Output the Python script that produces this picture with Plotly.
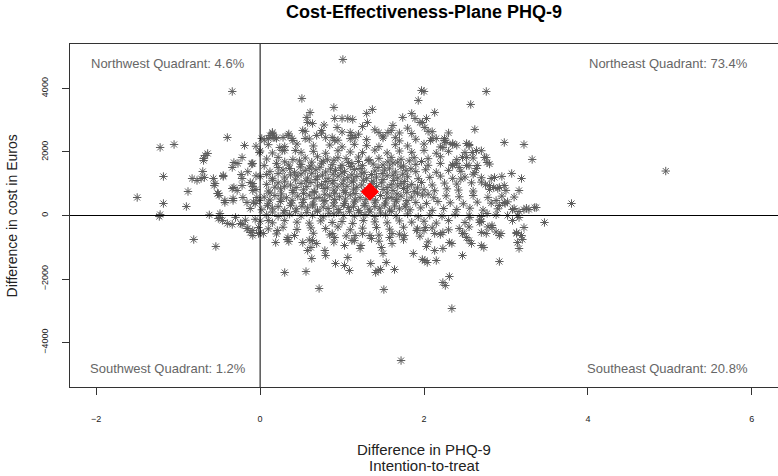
import plotly.graph_objects as go

# bootstrap replicates read off the plane: incremental effect (PHQ-9) and cost (Euros)
# dense core, row by row
phq_core = [
    0.15, 0.35, 0.55, 0.75, 1.0, 1.2, 1.45, 1.6, 1.85, 2.1, 2.3,
    0.05, 0.2, 0.4, 0.6, 0.8, 0.95, 1.1, 1.3, 1.5, 1.7, 1.9, 2.1, 2.25,
    -0.05, 0.1, 0.3, 0.45, 0.65, 0.85, 1.0, 1.15, 1.3, 1.45, 1.65, 1.8, 2.0, 2.2, 2.4,
    0.0, 0.15, 0.3, 0.5, 0.65, 0.8, 0.95, 1.1, 1.25, 1.4, 1.55, 1.7, 1.85, 2.0, 2.15, 2.3, 2.5, 2.7,
    0.08, 0.22, 0.4, 0.55, 0.7, 0.82, 0.95, 1.05, 1.2, 1.33, 1.45, 1.6, 1.72, 1.88, 2.05, 2.2, 2.4, 2.6,
    -0.1, 0.05, 0.2, 0.35, 0.5, 0.62, 0.75, 0.88, 1.0, 1.12, 1.25, 1.38, 1.5, 1.62, 1.75, 1.9, 2.05, 2.2, 2.35, 2.55, 2.8,
    0.12, 0.28, 0.42, 0.55, 0.68, 0.8, 0.92, 1.03, 1.15, 1.27, 1.4, 1.52, 1.65, 1.78, 1.9, 2.02, 2.15, 2.3, 2.45, 2.62,
    0.0, 0.15, 0.3, 0.45, 0.58, 0.7, 0.83, 0.95, 1.07, 1.18, 1.3, 1.42, 1.55, 1.68, 1.8, 1.93, 2.07, 2.2, 2.35, 2.5, 2.7, 2.95,
    0.08, 0.22, 0.37, 0.5, 0.62, 0.75, 0.88, 1.0, 1.12, 1.24, 1.36, 1.48, 1.6, 1.72, 1.85, 1.97, 2.1, 2.25, 2.4, 2.58, 2.75,
    -0.05, 0.1, 0.25, 0.4, 0.53, 0.66, 0.78, 0.9, 1.02, 1.14, 1.27, 1.5, 1.62, 1.75, 1.88, 2.0, 2.13, 2.28, 2.42, 2.6, 2.8, 3.0,
    0.05, 0.18, 0.32, 0.46, 0.6, 0.72, 0.85, 0.97, 1.1, 1.22, 1.35, 1.47, 1.6, 1.72, 1.85, 1.98, 2.12, 2.27, 2.43, 2.6, 2.78, 2.95, 3.1,
    -0.08, 0.1, 0.25, 0.38, 0.52, 0.65, 0.78, 0.9, 1.03, 1.15, 1.28, 1.4, 1.53, 1.66, 1.78, 1.9, 2.03, 2.17, 2.32, 2.48, 2.65, 2.82, 3.02,
    0.02, 0.15, 0.3, 0.44, 0.58, 0.7, 0.83, 0.96, 1.08, 1.2, 1.33, 1.46, 1.58, 1.7, 1.83, 1.96, 2.1, 2.24, 2.4, 2.56, 2.72, 2.9, 3.08, 3.25,
    0.08, 0.22, 0.36, 0.5, 0.64, 0.77, 0.9, 1.02, 1.15, 1.28, 1.4, 1.53, 1.66, 1.8, 1.93, 2.07, 2.22, 2.38, 2.55, 2.7, 2.88,
    0.0, 0.15, 0.3, 0.45, 0.6, 0.74, 0.88, 1.0, 1.13, 1.26, 1.4, 1.55, 1.7, 1.85, 2.0, 2.15, 2.3, 2.5, 2.7,
    0.1, 0.28, 0.45, 0.62, 0.8, 0.95, 1.1, 1.25, 1.42, 1.58, 1.75, 1.92, 2.1, 2.3, 2.55,
    0.2, 0.42, 0.65, 0.85, 1.05, 1.25, 1.45, 1.7, 1.95, 2.2,
    0.35, 0.6, 0.9, 1.15, 1.45, 1.75, 2.05,
    # inner rows
    0.3, 0.48, 0.63, 0.77, 0.9, 1.08, 1.2, 1.32, 1.56, 1.68, 1.82, 1.97,
    0.22, 0.36, 0.49, 0.6, 0.73, 0.86, 0.98, 1.1, 1.22, 1.44, 1.58, 1.72, 1.84,
    0.08, 0.22, 0.37, 0.5, 0.63, 0.76, 0.89, 1.0, 1.12, 1.24, 1.36, 1.49, 1.62, 1.74,
    0.15, 0.3, 0.43, 0.56, 0.68, 0.8, 0.9, 1.02, 1.14, 1.26, 1.38, 1.5, 1.63, 1.76,
    0.18, 0.3, 0.44, 0.57, 0.7, 0.82, 0.94, 1.06, 1.18, 1.42, 1.55, 1.68, 1.8, 1.92,
    0.12, 0.26, 0.4, 0.53, 0.66, 0.79, 0.91, 1.04, 1.16, 1.55, 1.67, 1.79, 1.92, 2.05,
    0.12, 0.25, 0.39, 0.53, 0.66, 0.79, 0.91, 1.04, 1.16, 1.29, 1.41, 1.54, 1.66, 1.79,
    0.09, 0.22, 0.37, 0.51, 0.64, 0.77, 0.9, 1.02, 1.14, 1.27, 1.4, 1.52, 1.64, 1.77,
    0.15, 0.29, 0.43, 0.57, 0.7, 0.84, 0.96, 1.09, 1.22, 1.34, 1.47, 1.6,
]
cost_core = [
    2620, 2570, 2650, 2590, 2630, 2560, 2610, 2680, 2580, 2640, 2600,
    2380, 2430, 2360, 2410, 2450, 2370, 2420, 2390, 2440, 2350, 2400, 2430, 2370,
    2180, 2230, 2170, 2250, 2190, 2220, 2160, 2240, 2200, 2170, 2230, 2190, 2250, 2160, 2210,
    2030, 1970, 2050, 1990, 2020, 1960, 2040, 2000, 1980, 2060, 1970, 2030, 1990, 2050, 1960, 2020, 1980, 2040,
    1780, 1830, 1760, 1810, 1850, 1770, 1820, 1790, 1840, 1760, 1800, 1830, 1770, 1820, 1790, 1850, 1760, 1810,
    1620, 1570, 1640, 1590, 1610, 1560, 1650, 1600, 1580, 1630, 1570, 1620, 1590, 1650, 1560, 1610, 1580, 1640, 1600, 1570, 1620,
    1380, 1430, 1360, 1410, 1440, 1370, 1420, 1390, 1450, 1360, 1400, 1430, 1370, 1410, 1380, 1440, 1360, 1420, 1390, 1350,
    1230, 1170, 1210, 1250, 1180, 1220, 1160, 1240, 1190, 1230, 1170, 1210, 1250, 1180, 1220, 1160, 1200, 1240, 1170, 1210, 1190, 1230,
    980, 1030, 960, 1010, 1040, 970, 1020, 990, 1050, 960, 1000, 1030, 970, 1010, 980, 1040, 960, 1020, 990, 1030, 970,
    820, 770, 840, 790, 810, 760, 850, 800, 780, 830, 770, 820, 790, 850, 760, 810, 780, 840, 800, 770, 820, 790,
    580, 630, 560, 610, 640, 570, 620, 590, 650, 560, 600, 630, 570, 610, 580, 640, 560, 620, 590, 630, 570, 610, 580,
    420, 370, 440, 390, 410, 360, 450, 400, 380, 430, 370, 420, 390, 450, 360, 410, 380, 440, 400, 370, 420, 390, 430,
    180, 230, 160, 210, 240, 170, 220, 190, 250, 160, 200, 230, 170, 210, 180, 240, 160, 220, 190, 230, 170, 210, 190, 230,
    20, -30, 40, -10, 10, -40, 50, 0, -20, 30, -30, 20, -10, 50, -40, 10, -20, 40, 0, -30, 20,
    -180, -230, -160, -210, -240, -170, -220, -190, -250, -160, -200, -230, -170, -210, -180, -240, -160, -220, -190,
    -420, -370, -440, -390, -410, -360, -450, -400, -380, -430, -370, -420, -390, -450, -360,
    -580, -630, -560, -610, -640, -570, -620, -590, -650, -600,
    -820, -770, -840, -790, -810, -760, -830,
    # inner rows
    1690, 1720, 1680, 1710, 1740, 1670, 1700, 1730, 1690, 1680, 1720, 1700,
    1510, 1480, 1530, 1490, 1520, 1470, 1500, 1540, 1480, 1510, 1490, 1530, 1470,
    1290, 1320, 1280, 1310, 1330, 1270, 1300, 1340, 1280, 1310, 1290, 1320, 1270, 1300,
    1110, 1080, 1120, 1090, 1130, 1070, 1100, 1120, 1090, 1110, 1080, 1130, 1100, 1070,
    890, 920, 880, 910, 930, 870, 900, 920, 890, 910, 880, 930, 900, 870,
    710, 680, 720, 690, 730, 670, 700, 720, 690, 710, 680, 730, 700, 670,
    490, 520, 480, 510, 530, 470, 500, 520, 490, 510, 480, 530, 500, 470,
    310, 280, 320, 290, 330, 270, 300, 320, 290, 310, 280, 330, 300, 270,
    110, 80, 120, 90, 130, 70, 100, 120, 90, 110, 80, 130,
]

# scattered replicates around the cloud
phq_outer = [
    -0.34, -1.22, -1.05, -0.40, -0.19, -0.67, -0.69, -1.18, -0.83, -0.77,
    -0.72, -0.68, -0.56, -0.45, -0.34, -0.32, -0.27, -0.22, -0.10, -0.23,
    -0.22, -0.09, -0.09, -0.34, -0.32, -0.52, -0.50, -0.88, -1.50, -1.18,
    -0.90, -0.43, -0.33, -0.16, -0.12, -1.22, -0.49, -0.04, -0.01, -0.09,
    -0.01, 0.12, 0.16, -0.45, -0.55, -0.51, -0.43, -0.33, -0.21, -0.28,
    -0.22, -0.12, -0.09, -0.06, -0.69, -0.64, -0.70, -0.57, -0.15, -0.05,
    -0.81, -0.54, -1.23, -0.51, -0.46, -0.40, -0.34, -0.22, -0.16, -0.12,
    -0.09, -0.49, -0.24, -0.15, -0.09, -0.02, -0.62, -0.30, -0.06, -0.18,
    0.30, 0.56, 0.72, 1.51, 1.72, 1.64, 1.44, 1.47, 1.41, 1.35,
    1.54, 1.09, 1.03, 1.07, 0.92, 0.63, 0.58, 0.62, 0.79, 0.80,
    0.19, 0.34, 0.33, 0.52, 0.64, 0.69, 0.88, 0.91, 1.03, 1.12,
    1.16, 1.23, 1.22, 1.34, 1.36, 1.48, 1.50, 1.61, 1.58, 1.61,
    1.87, 1.98, 0.00, 0.04, -0.02, 0.10, 0.21, 1.76, 1.91,
    3.47, 3.20, 3.16, 3.13, 2.92, 2.94, 2.92, 2.83, 2.83, 2.70,
    2.73, 2.70, 2.76, 2.58, 2.55, 2.49, 2.52, 2.47, 2.34, 2.31,
    2.23, 2.26, 2.34, 2.31, 2.23, 2.13, 2.03, 2.01, 2.04, 2.15,
    2.13, 2.23, 2.43, 2.47, 2.68, 2.77, 3.02, 3.14, 2.00, 2.02,
    3.16, 3.08, 3.22, 3.19, 3.13, 3.14, 2.56, 2.68, 2.78, 2.88,
    2.00, 2.76, 2.57, 2.13, 2.62, 2.98, 3.22, 3.32, 2.55, 2.35,
    2.25, 2.27, 2.23, 2.08, 2.64, 2.76, 2.77, 3.07, 3.19, 3.16,
    2.86, 2.82, 2.98, 2.92, 2.85, 2.80, 3.80, 2.99, 2.92, 3.35,
    3.28, 3.22, 3.16, 2.65, 2.64, 2.47, 2.52, 2.03, 1.98, 2.01,
    2.35, 2.40, 2.43, 4.95, 2.90, 2.88, 2.98, 3.10, 3.37, 2.52,
    2.59, 2.74, 2.15, 2.25, 2.35, 2.52, 2.55, 2.45, 2.60, 2.70,
    1.01, 0.51, 0.90, 1.97, 1.93, 1.37, 1.30, 0.61, 0.57, 0.58,
    0.91, 1.00, 1.07, 1.13, 0.94, 0.64, 1.31, 1.62, 1.74, 1.85,
    1.89, 1.95, 1.56, 0.75, 0.69, 0.52, 0.55, 0.15, 0.18, 0.10,
    0.34, 0.39, 0.28, 0.02, 0.24, 0.27, 0.43, 1.10, 1.12, 1.16,
    0.88, 0.91, 1.40, 1.70, 1.80, 2.05, 1.25, 0.78, 1.50, 1.65,
]
cost_outer = [
    3905, 2142, 2236, 2457, 2205, 1890, 1732, 1228, 1165, 1102,
    1165, 1197, 945, 1228, 1512, 1669, 1638, 1827, 1638, 1291,
    1165, 1008, 913, 850, 882, 693, 630, 756, 567, 378,
    283, 409, 472, 409, 220, 31, 63, 567, 472, 1638,
    1984, 2520, 2457, 1260, 1008, 693, 472, 535, 567, 787,
    945, 1039, 787, 378, 1795, 1953, 1386, 1165, 1380, 1250,
    -756, -976, -31, -94, -157, -252, -283, -283, -409, -535,
    -630, -63, -252, -409, -472, -567, 20, -60, -120, -150,
    -1795, -1764, -2299, -2331, -4567, -1701, -1732, -1701, -1795, -1512,
    -1480, -1732, -1575, -1323, -1512, -1354, -1102, -1008, -1102, -1260,
    -850, -693, -756, -850, -787, -882, -567, -693, -945, -787,
    -630, -945, -1039, -630, -724, -1008, -1197, -882, -693, -567,
    -1197, -1386, -535, -567, -378, -157, -472, -630, -472,
    -220, -756, -1039, -567, -1449, -567, -630, -315, -378, -945,
    -1008, -535, -567, -882, -787, -567, -693, -1260, -2929, -1921,
    -2110, -2205, -882, -850, -1039, -1102, -976, -1417, -1480, -1417,
    -567, -535, -409, -567, -220, 63, 0, 0, -472, -378,
    -63, -157, -378, -630, -535, -850, -60, -140, -360, -520,
    3905, 3905, 3496, 3244, 2709, 2299, 2236, 1764, 2236, 2236,
    2425, 2299, 2142, 2362, 2047, 1827, 1669, 1323, 1165, 787,
    1197, 1165, 945, 882, 882, 945, 378, 378, 315, 252,
    189, 189, 126, 1575, 1480, 1827, 1575, 3055, 2929, 2772,
    1575, 1638, 1512, 1400, 850, 472, 409, 220, 252, 1827,
    1984, 1827, 2425, 2362, 2268, 2268, 2205, 1150, 1300, 1050,
    4913, 3685, 3402, 3937, 3622, 3339, 3213, 3244, 3087, 2929,
    3055, 3055, 3055, 3024, 2772, 2898, 2929, 2835, 3087, 3213,
    3055, 2929, 2614, 2677, 2520, 2677, 2425, 2583, 2457, 2425,
    2520, 2425, 2457, 2425, 2142, 2047, 2047, 2614, 2520, 2457,
    2457, 2362, 2700, 2600, 2750, 2650, 2800, 2850, 2500, 2450,
]

# point estimate
mean_phq = [1.34]
mean_cost = [750]

quadrant_labels = [
    "Northwest Quadrant: 4.6%",
    "Northeast Quadrant: 73.4%",
    "Southwest Quadrant: 1.2%",
    "Southeast Quadrant: 20.8%",
]
x_ticks = [-2, 0, 2, 4, 6]
y_ticks = [-4000, -2000, 0, 2000, 4000]

fig = go.Figure()

fig.add_trace(go.Scatter(
    x=phq_core + phq_outer,
    y=cost_core + cost_outer,
    mode="markers",
    marker=dict(symbol="asterisk-open", size=7, color="#5c5c5c",
                line=dict(color="#5c5c5c", width=1)),
    showlegend=False,
))

fig.add_trace(go.Scatter(
    x=mean_phq, y=mean_cost,
    mode="markers",
    marker=dict(symbol="diamond", size=14, color="#ff0000"),
    showlegend=False,
))

# axes through the origin
fig.add_shape(type="line", xref="x", yref="paper", x0=0, x1=0, y0=0, y1=1,
              line=dict(color="black", width=1))
fig.add_shape(type="line", xref="paper", yref="y", x0=0, x1=1, y0=0, y1=0,
              line=dict(color="black", width=1))

qfont = dict(family="Liberation Sans, Arial", size=13, color="#666666")
fig.add_annotation(text=quadrant_labels[0], xref="paper", yref="paper",
                   x=0.027, y=0.942, xanchor="left", yanchor="middle",
                   showarrow=False, font=qfont)
fig.add_annotation(text=quadrant_labels[1], xref="paper", yref="paper",
                   x=0.960, y=0.942, xanchor="right", yanchor="middle",
                   showarrow=False, font=qfont)
fig.add_annotation(text=quadrant_labels[2], xref="paper", yref="paper",
                   x=0.025, y=0.053, xanchor="left", yanchor="middle",
                   showarrow=False, font=qfont)
fig.add_annotation(text=quadrant_labels[3], xref="paper", yref="paper",
                   x=0.960, y=0.053, xanchor="right", yanchor="middle",
                   showarrow=False, font=qfont)

# axis titles
tfont = dict(family="Liberation Sans, Arial", size=15, color="#222222")
fig.add_annotation(text="Difference in PHQ-9", xref="paper", yref="paper",
                   x=0.5, y=-0.181, xanchor="center", yanchor="middle",
                   showarrow=False, font=tfont)
fig.add_annotation(text="Intention-to-treat", xref="paper", yref="paper",
                   x=0.5, y=-0.228, xanchor="center", yanchor="middle",
                   showarrow=False, font=tfont)
fig.add_annotation(text="Difference in cost in Euros", xref="paper", yref="paper",
                   x=-0.082, y=0.5, xanchor="center", yanchor="middle",
                   textangle=-90, showarrow=False,
                   font=dict(family="Liberation Sans, Arial", size=14, color="#222222"))

axis_common = dict(showgrid=False, zeroline=False, showline=True, mirror=True,
                   linecolor="#333333", linewidth=1, ticks="outside",
                   ticklen=7, tickcolor="#333333",
                   tickfont=dict(family="Liberation Sans, Arial", size=9, color="#222222"))

fig.update_layout(
    width=778, height=476,
    margin=dict(l=70, r=0, t=44, b=89),
    paper_bgcolor="white", plot_bgcolor="white",
    title=dict(text="<b>Cost-Effectiveness-Plane PHQ-9</b>",
               x=0.545, xanchor="center", y=0.975, yanchor="middle",
               font=dict(family="Liberation Sans, Arial", size=18, color="black")),
    xaxis=dict(range=[-2.32, 6.32], tickvals=x_ticks, ticklabelstandoff=16,
               **axis_common),
    yaxis=dict(range=[-5400, 5400], tickvals=y_ticks, tickangle=-90,
               ticklabelstandoff=10, **axis_common),
)

# the page's default body margin would push the figure off the window
fig.write_html("out.html", config={"displayModeBar": False},
               post_script="document.body.style.margin='0';")
